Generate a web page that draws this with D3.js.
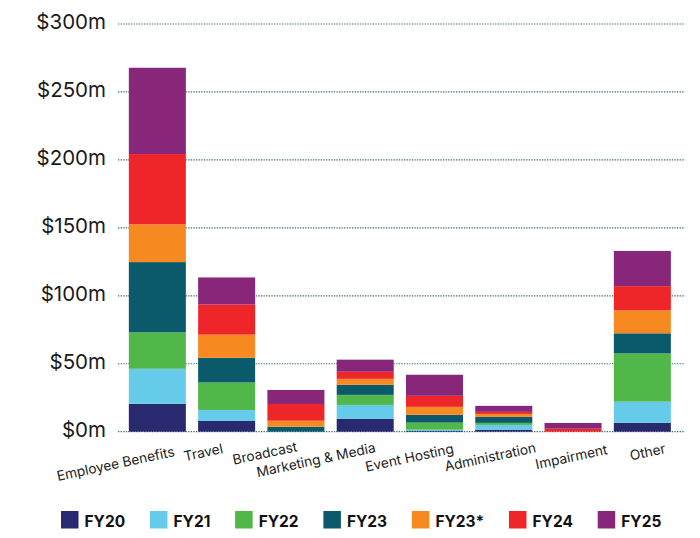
<!DOCTYPE html>
<html>
<head>
<meta charset="utf-8">
<script src="https://cdn.jsdelivr.net/npm/d3@7"></script>
<style>
  body { margin: 0; background: #fff; }
  text { font-family: Inter, "Noto Sans", sans-serif; }
</style>
</head>
<body>
<div id="chart"></div>
<script>
// categories and values ($m)
const categories = ["Employee Benefits", "Travel", "Broadcast", "Marketing & Media",
                    "Event Hosting", "Administration", "Impairment", "Other"];
const seriesNames = ["FY20", "FY21", "FY22", "FY23", "FY23*", "FY24", "FY25"];

const fy20  = [20.5,  7.9,  0,    9.4, 0.5, 1.5, 0,    6.6];
const fy21  = [25.8,  8.1,  0,   10.3, 1.0, 3.5, 0,   15.5];
const fy22  = [26.8, 20.2,  0,    7.4, 5.2, 1.5, 0,   35.5];
const fy23  = [51.7, 18.2,  3.7,  7.4, 5.7, 4.4, 0,   14.8];
const fy23s = [27.8, 17.0,  4.4,  4.4, 5.9, 2.2, 0,   17.0];
const fy24  = [51.7, 22.2, 12.3,  5.2, 8.1, 1.5, 2.2, 17.7];
const fy25  = [63.5, 19.9, 10.3,  8.9, 15.5, 4.4, 4.2, 25.9];

const yTicks = [0, 50, 100, 150, 200, 250, 300];

const colors = ["#29296f", "#66cbe8", "#50b748", "#0a5a6b", "#f68a21", "#ee2529", "#88267a"];

// hand placed category labels in the original (end x offset from bar centre, baseline y)
const labelShift = [18, -3, 2, 11, 20, 33, 35, 24];
const labelBase  = [456, 453, 451, 452, 453, 452, 454, 453];

const svgWidth = 700, svgHeight = 538;

let allSeries = [fy20, fy21, fy22, fy23, fy23s, fy24, fy25];
let table = categories.map((c, i) => {
    let row = {category: c};
    seriesNames.forEach((s, j) => row[s] = allSeries[j][i]);
    return row;
});

let stacked = d3.stack().keys(seriesNames)(table);

let svg = d3.select('#chart')
    .append('svg')
    .attr('width', svgWidth)
    .attr('height', svgHeight);

let xScale = d3.scaleBand()
    .domain(categories)
    .range([122.7, 677.0])
    .paddingInner(0.177)
    .paddingOuter(0.0885);

let yScale = d3.scaleLinear()
    .domain([0, 300])
    .range([431.7, 24]);

let colorScale = d3.scaleOrdinal().domain(seriesNames).range(colors);

// dotted gridlines
svg.append('g')
    .selectAll('line')
    .data(yTicks)
    .join('line')
    .attr('x1', 118)
    .attr('x2', 685)
    .attr('y1', d => yScale(d))
    .attr('y2', d => yScale(d))
    .attr('stroke', '#3a6a5e')
    .attr('stroke-width', 1.2)
    .attr('stroke-dasharray', '1.3,1.3');

// y axis labels
svg.append('g')
    .selectAll('text')
    .data(yTicks)
    .join('text')
    .attr('x', 106)
    .attr('y', d => yScale(d) - 2)
    .attr('dy', '0.35em')
    .attr('text-anchor', 'end')
    .attr('font-size', 20.5)
    .attr('fill', '#1a1a1a')
    .text(d => '$' + d + 'm');

// stacked bars
svg.append('g')
    .selectAll('g')
    .data(stacked)
    .join('g')
    .attr('fill', d => colorScale(d.key))
    .selectAll('rect')
    .data(d => d)
    .join('rect')
    .attr('x', d => xScale(d.data.category))
    .attr('width', xScale.bandwidth())
    .attr('y', d => yScale(d[1]))
    .attr('height', d => yScale(d[0]) - yScale(d[1]));

// category labels, tilted
svg.append('g')
    .selectAll('text')
    .data(categories)
    .join('text')
    .attr('transform', (d, i) => {
        let x = xScale(d) + xScale.bandwidth() / 2 + labelShift[i];
        return `translate(${x},${labelBase[i]}) rotate(-12)`;
    })
    .attr('text-anchor', 'end')
    .attr('font-size', 13.7)
    .attr('fill', '#222')
    .text(d => d);

// legend, laid out left to right
let legend = svg.append('g');
let lx = 61;
seriesNames.forEach(s => {
    legend.append('rect')
        .attr('x', lx)
        .attr('y', 511)
        .attr('width', 17.5)
        .attr('height', 17.5)
        .attr('fill', colorScale(s));
    let t = legend.append('text')
        .attr('x', lx + 23.5)
        .attr('y', 526.7)
        .attr('font-size', 15.5)
        .attr('font-weight', 700)
        .attr('fill', '#111')
        .text(s);
    lx += 23.5 + t.node().getComputedTextLength() + 24.8;
});
</script>
</body>
</html>
